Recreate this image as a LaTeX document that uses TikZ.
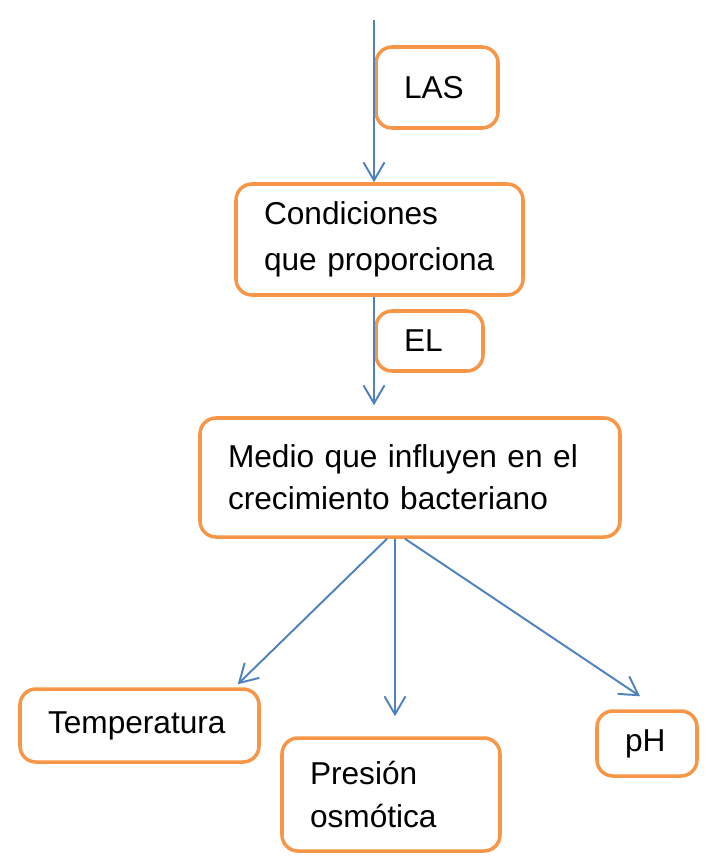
\documentclass[tikz,border=0pt]{standalone}
\usepackage{fontspec}
\setmainfont{Liberation Sans}
\usetikzlibrary{arrows.meta,calc}
\definecolor{naranja}{HTML}{F79646}
\definecolor{azul}{HTML}{4F81BD}
\tikzset{
  caja/.style={shape=rectangle, draw=naranja, line width=2pt, rounded corners=0.32cm,
    inner xsep=0.56cm, inner ysep=0pt, align=left,
    font=\fontsize{18}{25}\selectfont},
  flecha/.style={draw=azul, line width=1.1pt, -{Straight Barb[length=0.36cm,width=0.42cm]}}
}
\begin{document}
\begin{tikzpicture}
    \useasboundingbox (0,0) rectangle (14.16,-17.14);
    \coordinate (inicio) at (7.48,-0.4);

    \node[caja, text width=1.32cm, minimum height=1.62cm] (las) at (8.74,-1.75) {LAS};
    \node[caja, text width=4.62cm, minimum height=2.22cm, font=\fontsize{18}{26}\selectfont] (condiciones) at (7.59,-4.79) {Condiciones\\que proporciona};
    \node[caja, text width=1.02cm, minimum height=1.20cm] (el) at (8.59,-6.82) {EL};
    \node[caja, text width=7.28cm, minimum height=2.38cm, font=\fontsize{18}{24}\selectfont] (medio) at (8.2,-9.55) {Medio que influyen en el\\crecimiento bacteriano};
    \node[caja, text width=3.66cm, minimum height=1.46cm] (temperatura) at (2.79,-14.51) {Temperatura};
    \node[caja, text width=3.24cm, minimum height=2.26cm] (presion) at (7.82,-15.89) {Presión\\osmótica};
    \node[caja, text width=0.88cm, minimum height=1.30cm] (ph) at (12.94,-14.87) {pH};

    \coordinate (centro) at ($(medio.south)+(-0.3,0)$);

    \draw [flecha] (inicio) -- (inicio |- condiciones.north);
    \draw [flecha, shorten >=0.22cm] (inicio |- condiciones.south) -- (inicio |- medio.north);
    \draw [flecha] ($(medio.south)+(-0.46,0)$) -- ($(temperatura.north east)+(-0.46,0.06)$);
    \draw [flecha, shorten >=0.4cm] (centro) -- (centro |- presion.north);
    \draw [flecha] ($(medio.south)+(-0.1,0)$) -- ($(ph.north)+(-0.14,0.26)$);
\end{tikzpicture}
\end{document}
